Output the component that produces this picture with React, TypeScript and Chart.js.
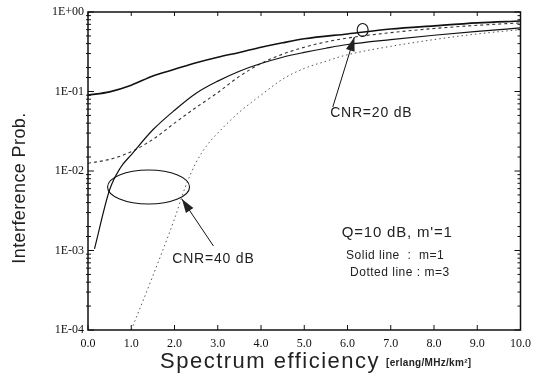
import React, { useEffect, useRef } from 'react';
import { Chart, registerables } from 'chart.js';

Chart.register(...registerables);

// ---- data ----
const X_TICK_VALUES = [0, 1, 2, 3, 4, 5, 6, 7, 8, 9, 10];

// CNR = 20 dB, m = 1 (solid)
const X_A = [0, 0.5, 1, 1.5, 2, 2.5, 3, 3.5, 4, 4.5, 5, 6, 7, 8, 9, 10];
const Y_A = [0.09, 0.099, 0.12, 0.157, 0.19, 0.23, 0.27, 0.31, 0.36, 0.41, 0.46, 0.53, 0.61, 0.67, 0.73, 0.77];

// CNR = 40 dB, m = 1 (solid)
const X_B = [0.15, 0.5, 0.75, 1, 1.5, 2, 2.5, 3, 3.5, 4, 4.5, 5, 5.5, 6, 7, 8, 9, 10];
const Y_B = [0.00105, 0.0058, 0.011, 0.016, 0.033, 0.058, 0.095, 0.135, 0.18, 0.225, 0.27, 0.31, 0.35, 0.39, 0.45, 0.51, 0.57, 0.63];

// CNR = 20 dB, m = 3 (dotted)
const X_C = [0, 0.5, 1, 1.5, 2, 2.5, 3, 3.5, 4, 4.5, 5, 5.5, 6, 7, 8, 9, 10];
const Y_C = [0.0125, 0.014, 0.0175, 0.025, 0.04, 0.063, 0.097, 0.155, 0.225, 0.295, 0.36, 0.42, 0.47, 0.55, 0.62, 0.68, 0.73];

// CNR = 40 dB, m = 3 (dotted)
const X_D = [1, 1.5, 2, 2.25, 2.5, 2.75, 3, 3.5, 4, 4.5, 5, 5.5, 6, 7, 8, 9, 10];
const Y_D = [0.0001, 0.00048, 0.0025, 0.0063, 0.0128, 0.021, 0.03, 0.055, 0.09, 0.143, 0.195, 0.24, 0.29, 0.37, 0.45, 0.53, 0.6];

// annotation texts
const Y_TITLE = 'Interference Prob.';
const X_TITLE = 'Spectrum efficiency';
const X_UNIT = '[erlang/MHz/km\u00B2]';
const LABEL_CNR40 = 'CNR=40 dB';
const LABEL_CNR20 = 'CNR=20 dB';
const NOTE_LINES = ["Q=10 dB, m'=1", 'Solid line  :  m=1', 'Dotted line : m=3'];

// annotation anchors in data coordinates
const ANN = {
  ellipse40: { x: 1.4, y: 6.3e-3, rx: 41, ry: 17 },
  ellipse20: { x: 6.35, y: 0.594, rx: 5.5, ry: 6.5 },
  arrow40: { fromX: 2.9, fromY: 1.14e-3, toX: 2.17, toY: 4.45e-3 },
  arrow20: { fromX: 5.66, fromY: 0.0638, toX: 6.16, toY: 0.485 },
  text40: { x: 2.9, y: 7.8e-4 },
  text20: { x: 6.55, y: 0.0537 },
  notes: [
    { x: 7.15, y: 1.66e-3, size: 15 },
    { x: 7.1, y: 8.5e-4, size: 12 },
    { x: 7.21, y: 5.2e-4, size: 12 },
  ],
};

const zip = (xs: number[], ys: number[]) => xs.map((x, i) => ({ x, y: ys[i] }));

const fmtExp = (v: number) => {
  const l = Math.log10(v);
  const e = Math.round(l);
  if (Math.abs(l - e) > 1e-6) return '';
  return '1E' + (e >= 0 ? '+' : '-') + String(Math.abs(e)).padStart(2, '0');
};

const decorPlugin = {
  id: 'decor',
  afterDraw(chart: any) {
    const { ctx, chartArea, scales } = chart;
    const xs = scales.x;
    const ys = scales.y;
    const { left, right, top, bottom } = chartArea;
    ctx.save();
    ctx.strokeStyle = '#111';
    ctx.fillStyle = '#111';

    // frame
    ctx.lineWidth = 1.5;
    ctx.strokeRect(left, top, right - left, bottom - top);

    // y ticks (decades + minor) on both sides, inward
    ctx.lineWidth = 1;
    ys.ticks.forEach((t: any) => {
      const py = ys.getPixelForValue(t.value);
      const major = fmtExp(t.value) !== '';
      const len = major ? 6 : 3;
      ctx.beginPath();
      ctx.moveTo(left - (major ? 0 : 2), py);
      ctx.lineTo(left + len, py);
      ctx.moveTo(right, py);
      ctx.lineTo(right - len, py);
      ctx.stroke();
    });
    // x ticks
    xs.ticks.forEach((t: any) => {
      const px = xs.getPixelForValue(t.value);
      ctx.beginPath();
      ctx.moveTo(px, bottom);
      ctx.lineTo(px, bottom - 5);
      ctx.moveTo(px, top);
      ctx.lineTo(px, top + 4);
      ctx.stroke();
    });

    // axis titles
    ctx.fillStyle = '#222';
    ctx.save();
    ctx.translate(20, (top + bottom) / 2 + 17);
    ctx.rotate(-Math.PI / 2);
    ctx.font = '18px "Liberation Sans", Arial, sans-serif';
    (ctx as any).letterSpacing = '0.4px';
    ctx.textAlign = 'center';
    ctx.textBaseline = 'middle';
    ctx.fillText(Y_TITLE, 0, 0);
    ctx.restore();

    ctx.save();
    ctx.font = '22px "Liberation Sans", Arial, sans-serif';
    (ctx as any).letterSpacing = '1.5px';
    ctx.textAlign = 'left';
    ctx.textBaseline = 'middle';
    ctx.fillText(X_TITLE, 160, 362);
    const w = ctx.measureText(X_TITLE).width;
    ctx.font = 'bold 10px "Liberation Sans", Arial, sans-serif';
    (ctx as any).letterSpacing = '0.3px';
    ctx.fillText(X_UNIT, 160 + w + 6, 363);
    ctx.restore();

    // ellipses
    ctx.lineWidth = 1.1;
    [ANN.ellipse40, ANN.ellipse20].forEach((e) => {
      ctx.beginPath();
      ctx.ellipse(xs.getPixelForValue(e.x), ys.getPixelForValue(e.y), e.rx, e.ry, 0, 0, Math.PI * 2);
      ctx.stroke();
    });

    // arrows
    [ANN.arrow40, ANN.arrow20].forEach((a) => {
      const x1 = xs.getPixelForValue(a.fromX);
      const y1 = ys.getPixelForValue(a.fromY);
      const x2 = xs.getPixelForValue(a.toX);
      const y2 = ys.getPixelForValue(a.toY);
      const ang = Math.atan2(y2 - y1, x2 - x1);
      ctx.lineWidth = 1;
      ctx.beginPath();
      ctx.moveTo(x1, y1);
      ctx.lineTo(x2, y2);
      ctx.stroke();
      const L = 14;
      const W = 4.5;
      const bx = x2 - L * Math.cos(ang);
      const by = y2 - L * Math.sin(ang);
      ctx.beginPath();
      ctx.moveTo(x2, y2);
      ctx.lineTo(bx + W * Math.sin(ang), by - W * Math.cos(ang));
      ctx.lineTo(bx - W * Math.sin(ang), by + W * Math.cos(ang));
      ctx.closePath();
      ctx.fill();
    });

    // labels
    ctx.textAlign = 'center';
    ctx.textBaseline = 'middle';
    ctx.font = '14px "Liberation Sans", Arial, sans-serif';
    (ctx as any).letterSpacing = '0.8px';
    ctx.fillText(LABEL_CNR40, xs.getPixelForValue(ANN.text40.x), ys.getPixelForValue(ANN.text40.y));
    ctx.fillText(LABEL_CNR20, xs.getPixelForValue(ANN.text20.x), ys.getPixelForValue(ANN.text20.y));
    ANN.notes.forEach((n, i) => {
      ctx.font = `${n.size}px "Liberation Sans", Arial, sans-serif`;
      (ctx as any).letterSpacing = i === 0 ? '0.8px' : '0.5px';
      ctx.fillText(NOTE_LINES[i], xs.getPixelForValue(n.x), ys.getPixelForValue(n.y));
    });
    (ctx as any).letterSpacing = '0px';
    ctx.restore();
  },
};

export default function App() {
  const ref = useRef<HTMLCanvasElement>(null);
  useEffect(() => {
    const canvas = ref.current;
    if (!canvas) return;
    const common = { pointRadius: 0, fill: false, cubicInterpolationMode: 'monotone' as const };
    const chart = new Chart(canvas, {
      type: 'line',
      data: {
        datasets: [
          { ...common, label: 'CNR=20 dB, m=1', data: zip(X_A, Y_A), borderColor: '#111', borderWidth: 1.6 },
          { ...common, label: 'CNR=40 dB, m=1', data: zip(X_B, Y_B), borderColor: '#111', borderWidth: 1.2 },
          { ...common, label: 'CNR=20 dB, m=3', data: zip(X_C, Y_C), borderColor: '#333', borderWidth: 1.1, borderDash: [3, 3] },
          { ...common, label: 'CNR=40 dB, m=3', data: zip(X_D, Y_D), borderColor: '#555', borderWidth: 1, borderDash: [1.5, 3] },
        ],
      },
      options: {
        responsive: false,
        animation: false,
        devicePixelRatio: 1,
        layout: { padding: { top: 12, right: 12, left: 0, bottom: 0 } },
        plugins: { legend: { display: false }, tooltip: { enabled: false } },
        scales: {
          x: {
            type: 'linear',
            min: 0,
            max: 10,
            afterFit: (s: any) => {
              s.height = 46;
            },
            afterBuildTicks: (s: any) => {
              s.ticks = X_TICK_VALUES.map((v) => ({ value: v }));
            },
            grid: { display: false, drawTicks: false },
            border: { display: false },
            ticks: {
              callback: (v: any) => Number(v).toFixed(1),
              font: { family: '"Liberation Serif", serif', size: 12 },
              color: '#111',
              padding: 7,
              maxRotation: 0,
              autoSkip: false,
            },
          },
          y: {
            type: 'logarithmic',
            min: 1e-4,
            max: 1,
            afterFit: (s: any) => {
              s.width = 88;
            },
            grid: { display: false, drawTicks: false },
            border: { display: false },
            ticks: {
              callback: (v: any) => fmtExp(Number(v)),
              font: { family: '"Liberation Serif", serif', size: 12 },
              color: '#111',
              padding: 4,
              autoSkip: false,
            },
          },
        },
      },
      plugins: [decorPlugin],
    });
    return () => chart.destroy();
  }, []);
  return (
    <div style={{ position: 'fixed', left: 0, top: 0, width: 538, height: 376, background: '#fff' }}>
      <canvas ref={ref} width={538} height={376} style={{ display: 'block' }} />
    </div>
  );
}
